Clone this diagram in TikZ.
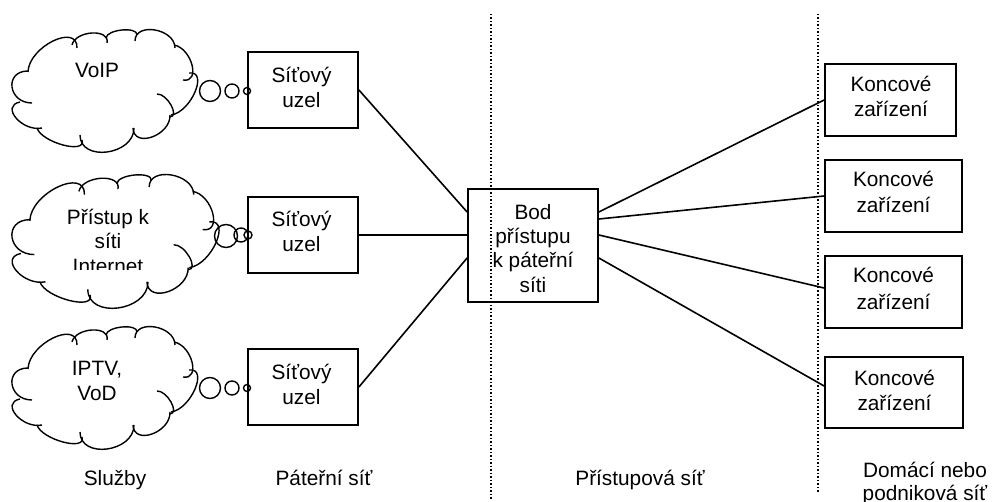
\documentclass[tikz,border=0pt]{standalone}
\usepackage{fontspec}
\setmainfont{Liberation Sans}
\newcommand\lobe[6]{%
  \pgfmathsetmacro\lobedx{4/3*(#3-(#1+#5)/2)}%
  \pgfmathsetmacro\lobedy{4/3*(#4-(#2+#6)/2)}%
  \draw[cloudline] (#1,#2) .. controls ({#1+\lobedx},{#2+\lobedy}) and ({#5+\lobedx},{#6+\lobedy}) .. (#5,#6);}
\newcommand\cloudshape{%
  \lobe{28}{72}{53}{41}{77}{48}
  \lobe{72}{45}{92}{33}{107}{43}
  \lobe{106}{38}{122}{30}{137}{35}
  \lobe{135}{41}{155}{30}{175}{48}
  \lobe{174}{45}{192}{65}{183}{80}
  \lobe{189}{73}{195}{92}{171}{115}
  \lobe{157}{94}{171}{105}{170}{117}
  \lobe{170}{115}{152}{137}{133}{128}
  \lobe{134}{128}{107}{152}{80}{135}
  \lobe{82}{140}{63}{145}{37}{128}
  \lobe{42}{128}{16}{118}{20}{102}
  \lobe{32}{103}{12}{87}{28}{71}}
\tikzset{
  x=1pt,y=-1pt,
  cloudline/.style={line width=1.4pt,black},
  boxnode/.style={draw=black,line width=1.8pt,minimum width=#1,inner sep=0pt,fill=none},
  lbl/.style={font=\fontsize{20.8}{24}\selectfont,inner sep=0pt,text=black,anchor=base},
  bubble/.style={circle,draw=black,line width=1.4pt,inner sep=0pt,minimum size=#1},
  link/.style={line width=1.6pt,black},
  divider/.style={line width=1.1pt,black,dash pattern=on 1.5pt off 2pt}
}
\begin{document}
\begin{tikzpicture}
\clip (0,0) rectangle (992,502);
\fill[white] (0,0) rectangle (992,502);
% dividers
\coordinate (d1t) at (491,14); \coordinate (d1b) at (491,500);
\coordinate (d2t) at (818,14); \coordinate (d2b) at (818,492);
\draw[divider] (d1t) -- (d1b);
\draw[divider] (d2t) -- (d2b);
% clouds
\begin{scope}\cloudshape\end{scope}
\begin{scope}[shift={(0,297)}]\cloudshape\end{scope}
\begin{scope}[shift={(12,175)},xscale=1.115,yscale=1.09,shift={(-12,-30)}]\cloudshape\end{scope}
% bubbles
\node[bubble=21pt] (b11) at (210,91) {};
\node[bubble=14pt] (b12) at (232,91) {};
\node[bubble=7pt] (b13) at (247,91) {};
\node[bubble=23pt] (b21) at (226,236) {};
\node[bubble=14pt] (b22) at (241,235) {};
\node[bubble=8pt] (b23) at (248,235) {};
\node[bubble=21pt] (b31) at (210,388) {};
\node[bubble=14pt] (b32) at (232,388) {};
\node[bubble=7pt] (b33) at (247,388) {};
% boxes
\node[boxnode=110pt,minimum height=76pt] (s1) at (303,90) {};
\node[boxnode=110pt,minimum height=76pt] (s2) at (303,235) {};
\node[boxnode=110pt,minimum height=76pt] (s3) at (303,387) {};
\node[boxnode=130pt,minimum height=113pt] (hub) at (533,245.5) {};
\node[boxnode=131pt,minimum height=72pt] (k1) at (890.5,100) {};
\node[boxnode=137pt,minimum height=72pt] (k2) at (893.5,196) {};
\node[boxnode=137pt,minimum height=72pt] (k3) at (893.5,292) {};
\node[boxnode=138pt,minimum height=71pt] (k4) at (894,392.5) {};
% connectors
\draw[link] (s1.east) -- ([yshift=33.5pt]hub.west);
\draw[link] (s2.east) -- ([yshift=10.5pt]hub.west);
\draw[link] (s3.east) -- ([yshift=-12.5pt]hub.west);
\draw[link] ([yshift=33.5pt]hub.east) -- (k1.west);
\draw[link] ([yshift=26.5pt]hub.east) -- (k2.west);
\draw[link] ([yshift=10.5pt]hub.east) -- ([yshift=4pt]k3.west);
\draw[link] ([yshift=-12.5pt]hub.east) -- ([yshift=6.5pt]k4.west);
% texts
\node[lbl] (t1) at (97,78) {VoIP};
\begin{scope}
\clip (0,160) rectangle (300,270);
\node[lbl] (t2a) at (108,225) {Přístup k};
\node[lbl] (t2b) at (108,249) {síti};
\node[lbl] (t2c) at (108,274) {Internet};
\end{scope}
\node[lbl] (t3a) at (97,375) {IPTV,};
\node[lbl] (t3b) at (97,400) {VoD};
\foreach \n/\y in {sa/83,sb/227,sc/379}{\node[lbl] (\n) at (301.5,\y) {Síťový};}
\foreach \n/\y in {ua/108,ub/252,uc/404}{\node[lbl] (\n) at (301.5,\y) {uzel};}
\node[lbl] (h1) at (533,220) {Bod};
\node[lbl] (h2) at (533,244) {přístupu};
\node[lbl] (h3) at (533,268) {k páteřní};
\node[lbl] (h4) at (533,293) {síti};
\foreach \n/\x/\y in {ka/891/92,kb/893.5/187,kc/893.5/283,kd/894.5/385}{\node[lbl] (\n) at (\x,\y) {Koncové};}
\foreach \n/\x/\y in {za/891/117,zb/893.5/213,zc/893.5/309,zd/894.5/410}{\node[lbl] (\n) at (\x,\y) {zařízení};}
\node[lbl] (c1) at (115,485) {Služby};
\node[lbl] (c2) at (324,485) {Páteřní síť};
\node[lbl] (c3) at (640,485) {Přístupová síť};
\node[lbl] (c4a) at (925,477) {Domácí nebo};
\node[lbl] (c4b) at (925,500) {podniková síť};
\end{tikzpicture}
\end{document}
